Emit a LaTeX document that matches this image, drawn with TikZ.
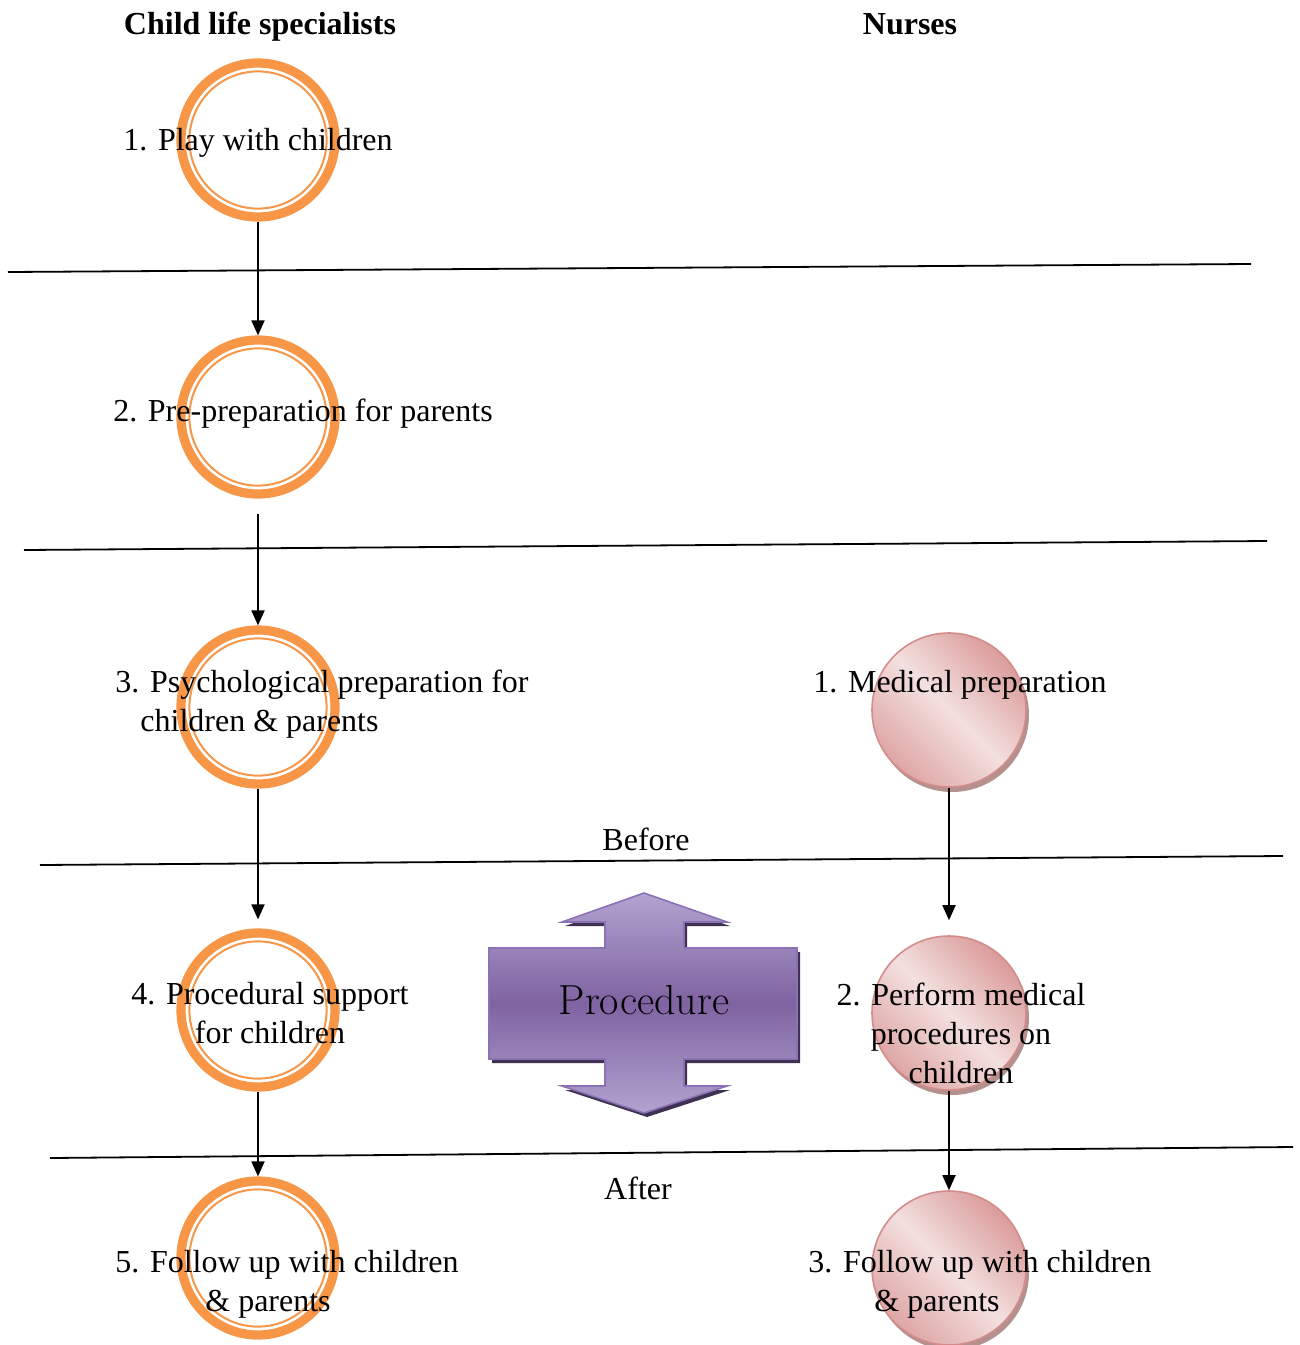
\documentclass[tikz,border=0pt]{standalone}
\usepackage{fontspec}
\setmainfont{Liberation Serif}
\usetikzlibrary{arrows.meta,shadows}

\definecolor{ringorange}{HTML}{F79646}
\definecolor{pinkdark}{HTML}{DA9C9B}
\definecolor{pinklight}{HTML}{F3E0DF}
\definecolor{pinkedge}{HTML}{D38C8A}
\definecolor{pinkshadow}{HTML}{B4918F}
\definecolor{purpledark}{HTML}{7F63A1}
\definecolor{purplelight}{HTML}{B2A3D0}
\definecolor{purpleedge}{HTML}{8B72B6}
\definecolor{purpleshadow}{HTML}{3F3151}

\begin{document}
\begin{tikzpicture}[x=0.5pt, y=-0.5pt,
  font=\fontsize{16}{19.5}\selectfont,
  hdr/.style={font=\fontsize{16}{19.5}\selectfont\bfseries, anchor=base},
  clsring/.style={circle, draw=ringorange, line width=4.6pt, minimum size=77pt, inner sep=0pt,
    path picture={\draw[ringorange, line width=1pt] (path picture bounding box.center) circle (34.3pt);}},
  nrsball/.style={circle, draw=pinkedge, line width=0.8pt, minimum size=77pt, inner sep=0pt,
    left color=pinkdark, right color=pinkdark!85!pinklight, middle color=pinklight, shading angle=-45,
    drop shadow={shadow xshift=1.5pt, shadow yshift=-2.5pt, fill=pinkshadow, opacity=1}},
  flow/.style={-{Triangle[length=7.5pt, width=6.5pt]}, line width=0.9pt},
  sep/.style={line width=0.9pt},
  lbl/.style={inner sep=0pt}
]
\useasboundingbox (0,0) rectangle (1300,1345);

\node[hdr] (hcls) at (260,34) {Child life specialists};
\node[hdr] (hnrs) at (910,34) {Nurses};

\draw[sep] (8,272) -- (1251,264);
\draw[sep] (24,550) -- (1267,541);
\draw[sep] (40,865) -- (1283,856);
\draw[sep] (50,1158) -- (1293,1147);

\node[lbl] (before) at (646,839) {Before};
\node[lbl] (after) at (638,1188) {After};

\node[clsring] (cls1) at (258,140) {};
\node[clsring] (cls2) at (258,417) {};
\node[clsring] (cls3) at (258,707) {};
\node[clsring] (cls4) at (258,1010) {};
\node[clsring] (cls5) at (258,1258) {};

\node[nrsball] (nrs1) at (949,710) {};
\node[nrsball] (nrs2) at (949,1013) {};
\node[nrsball] (nrs3) at (949,1268) {};

\draw[flow] (cls1.south) -- (cls2.north);
\draw[flow, shorten <=7.5pt] (cls2.south) -- (cls3.north);
\draw[flow, shorten >=4.5pt] (cls3.south) -- (cls4.north);
\draw[flow] (cls4.south) -- (cls5.north);
\draw[flow] (nrs1.south) -- ([yshift=7.5pt]nrs2.north);
\draw[flow] (nrs2.south) -- (nrs3.north);

% procedure arrow
\path[draw=purpleedge, line width=0.8pt,
  top color=purplelight, bottom color=purplelight, middle color=purpledark,
  drop shadow={shadow xshift=1.5pt, shadow yshift=-2pt, fill=purpleshadow, opacity=1}]
  (644,893) -- (727,922) -- (684,922) -- (684,948) -- (797,948) -- (797,1059)
  -- (684,1059) -- (684,1086) -- (727,1086) -- (644,1113) -- (562,1086)
  -- (605,1086) -- (605,1059) -- (489,1059) -- (489,948) -- (605,948)
  -- (605,922) -- (562,922) -- cycle;
\node[font=\fontfamily{lmr}\fontsize{21}{25}\selectfont] (proc) at (644,1000) {Procedure};

\node[lbl] (tcls1) at (258,143) {1. Play with children};
\node[lbl] (tcls2) at (303,414) {2. Pre-preparation for parents};
\node[lbl, anchor=west, align=left] (tcls3) at (115,704)
  {3. Psychological preparation for\\\hspace*{12.5pt}children \& parents};
\node[lbl, align=center] (tcls4) at (270,1013) {4. Procedural support\\for children};
\node[lbl, anchor=west, align=left] (tcls5) at (115,1284)
  {5. Follow up with children\\\hspace*{45pt}\& parents};

\node[lbl] (tnrs1) at (960,685) {1. Medical preparation};
\node[lbl, align=center] (tnrs2) at (961,1033) {2. Perform medical\\procedures on\\children};
\node[lbl, anchor=west, align=left] (tnrs3) at (808,1284)
  {3. Follow up with children\\\hspace*{33pt}\& parents};
\end{tikzpicture}
\end{document}
